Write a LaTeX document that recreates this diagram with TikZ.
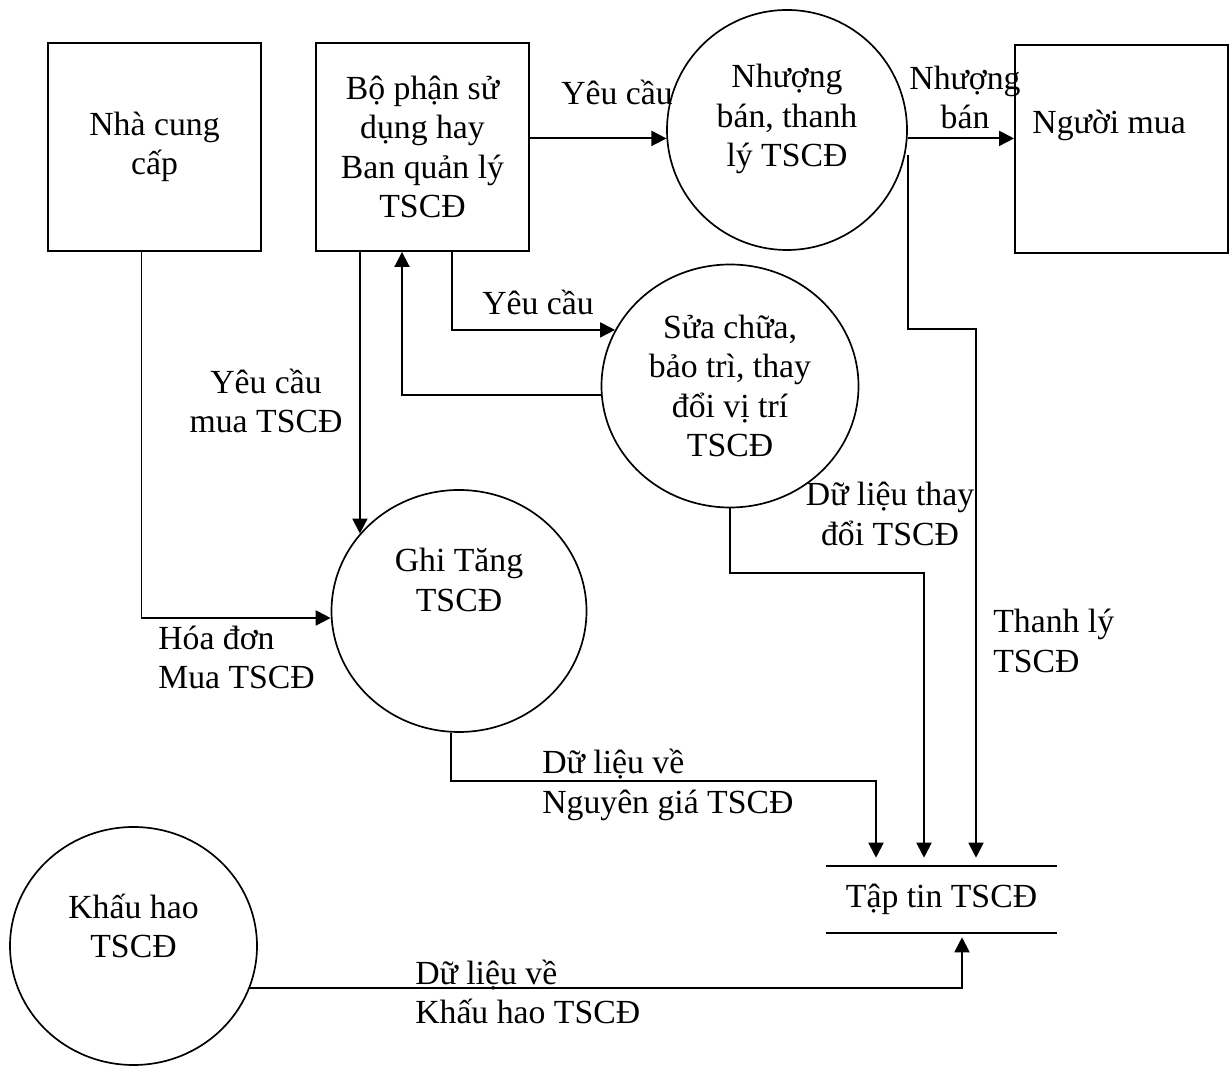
\documentclass[tikz,border=0pt]{standalone}
\usepackage{fontspec}
\setmainfont{Liberation Serif}
\usetikzlibrary{shapes.geometric}
\usetikzlibrary{arrows.meta}
\usetikzlibrary{calc}

\tikzset{
  entity/.style={draw, line width=1.35pt, minimum width=5.325cm, minimum height=5.2cm, align=center},
  process/.style={draw, ellipse, line width=1.2pt, inner sep=0pt, align=center},
  flow/.style={line width=1.35pt, -{Triangle[length=0.375cm,width=0.375cm]}},
  note/.style={align=center, inner sep=0pt},
  leftnote/.style={align=left, inner sep=0pt, anchor=west},
}

\begin{document}
\begin{tikzpicture}[font=\fontsize{24}{28}\selectfont]
        \useasboundingbox (0,0) rectangle (30.8,26.65);
        \node[entity] (nha) at (3.8625,22.975) {Nhà cung\\cấp};
        \node[entity] (bo) at (10.5625,22.975) {Bộ phận sử\\dụng hay\\Ban quản lý\\TSCĐ};
        \node[entity, label={[note,name=nguoitxt,xshift=-0.31cm,yshift=0.6cm]center:Người mua}] (nguoi) at (28.0375,22.925) {};
        \node[process, minimum width=6cm, minimum height=6cm, label={[note,name=nhuongtxt,yshift=0.27cm]center:Nhượng\\bán, thanh\\lý TSCĐ}] (nhuong) at (19.675,23.4) {};
        \node[process, minimum width=6.425cm, minimum height=6.075cm] (sua) at (18.25,17.0) {Sửa chữa,\\bảo trì, thay\\đổi vị trí\\TSCĐ};
        \node[process, minimum width=6.375cm, minimum height=6.05cm, label={[note,name=ghitxt,yshift=0.775cm]center:Ghi Tăng\\TSCĐ}] (ghi) at (11.475,11.375) {};
        \node[process, minimum width=6.175cm, minimum height=5.95cm, label={[note,name=khautxt,yshift=0.5cm]center:Khấu hao\\TSCĐ}] (khau) at (3.3375,3.0) {};
        \node[inner sep=0pt, minimum width=5.775cm, minimum height=1.675cm] (tap) at (23.5375,4.1625) {Tập tin TSCĐ};
        \draw[line width=1.35pt] (tap.north west) -- (tap.north east) (tap.south west) -- (tap.south east);

        \draw[flow] ([xshift=-0.325cm]nha.south) |- ([yshift=-0.175cm]ghi.west);
        \draw[flow] (ghi.142 |- bo.south) -- (ghi.142);
        \draw[flow] (bo.east |- nhuong.184) -- (nhuong.184);
        \draw[flow] (nhuong.356) -- (nhuong.356 -| nguoi.west);
        \draw[flow] ([xshift=0.7375cm]bo.south) |- (sua.154);
        \draw[flow] (sua.184) -| ([xshift=-0.5125cm]bo.south);
        \draw[flow] (sua.south) -- ++(0,-1.625) -| ([xshift=-0.4375cm,yshift=0.2cm]tap.north);
        \draw[flow] ([yshift=-0.625cm]nhuong.east) -- ++(0,-4.35) -| ([xshift=0.8625cm,yshift=0.2cm]tap.north);
        \draw[flow] ([xshift=-0.2cm]ghi.south) -- ++(0,-1.2) -| ([xshift=-1.6375cm,yshift=0.2cm]tap.north);
        \draw[flow] (khau.340) -| ([xshift=0.5125cm,yshift=-0.1cm]tap.south);

        \node[note] (yc1) at (15.425,24.35) {Yêu cầu};
        \node[note] (yc2) at (13.45,19.1) {Yêu cầu};
        \node[note] (yc3) at (6.65,16.625) {Yêu cầu\\mua TSCĐ};
        \node[note] (nb) at (24.125,24.2125) {Nhượng\\bán};
        \node[note] (dlt) at (22.25,13.8) {Dữ liệu thay\\đổi TSCĐ};
        \node[leftnote] (tl) at (24.825,10.625) {Thanh lý\\TSCĐ};
        \node[leftnote] (hd) at (3.95,10.2125) {Hóa đơn\\Mua TSCĐ};
        \node[leftnote] (dlng) at (13.55,7.025) {Dữ liệu về\\Nguyên giá TSCĐ};
        \node[leftnote] (dlkh) at (10.375,1.85) {Dữ liệu về\\Khấu hao TSCĐ};
    \end{tikzpicture}
\end{document}
